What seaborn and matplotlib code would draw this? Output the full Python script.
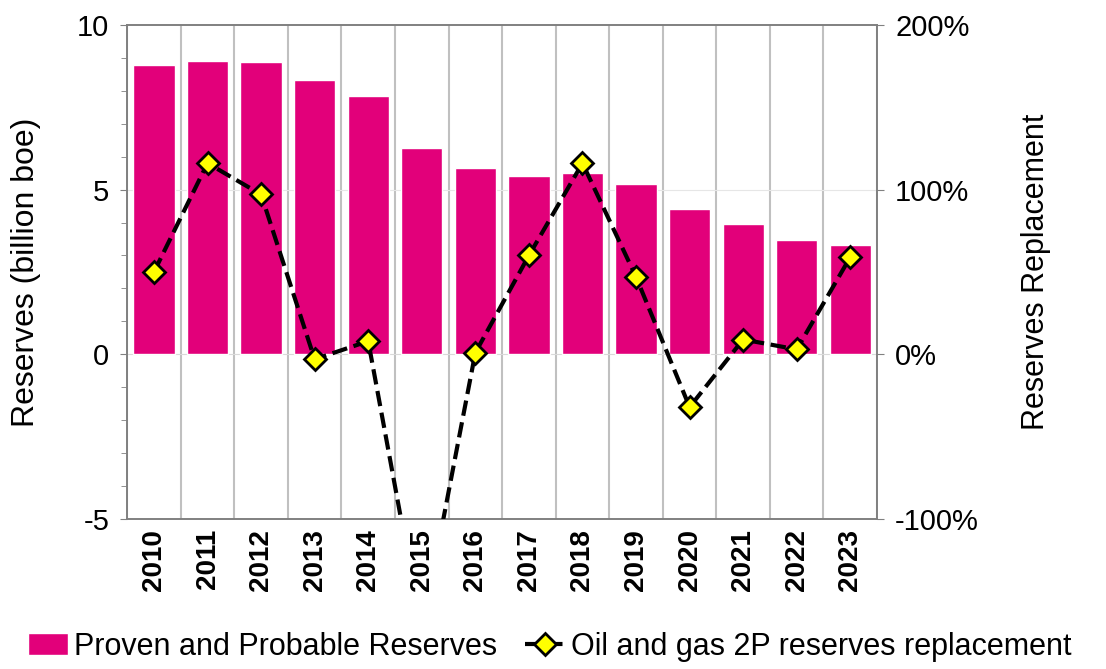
import numpy as np
import matplotlib
matplotlib.use('Agg')
import matplotlib.pyplot as plt
import matplotlib.ticker as mticker
import seaborn as sns
import pandas as pd

years = ['2010', '2011', '2012', '2013', '2014', '2015', '2016',
         '2017', '2018', '2019', '2020', '2021', '2022', '2023']
reserves = [8.78, 8.90, 8.87, 8.33, 7.83, 6.26, 5.65,
            5.41, 5.50, 5.18, 4.41, 3.95, 3.48, 3.31]
replacement = [50, 116, 97, -3, 8, -168, 1,
               60, 116, 47, -32, 9, 3, 59]

bar_color = '#E2007A'

sns.set_style('white')
plt.rcParams['font.family'] = ['Liberation Sans', 'DejaVu Sans']
plt.rcParams['axes.unicode_minus'] = False
plt.rcParams['text.color'] = 'black'
plt.rcParams['axes.labelcolor'] = 'black'
plt.rcParams['xtick.color'] = 'black'
plt.rcParams['ytick.color'] = 'black'

df = pd.DataFrame({'year': years, 'reserves': reserves, 'repl': replacement})

fig = plt.figure(figsize=(11.06, 6.69), dpi=100)
ax = fig.add_axes([0.115, 0.224, 0.678, 0.739])

# vertical separators between categories
for b in np.arange(-0.5, len(years), 1.0):
    ax.axvline(b, color='#c0c0c0', lw=1.5, zorder=0)
ax.axhline(0, color='#d9d9d9', lw=0.8, zorder=0)
ax.axhline(5, color='#e6e6e6', lw=0.8, zorder=0)

sns.barplot(data=df, x='year', y='reserves', color=bar_color, saturation=1,
            width=0.77, ax=ax, label='Proven and Probable Reserves', zorder=2)
ax.set_xlim(-0.5, len(years) - 0.5)
ax.set_ylim(-5, 10)
ax.set_yticks([-5, 0, 5, 10])
ax.yaxis.set_minor_locator(mticker.MultipleLocator(1))
ax.tick_params(axis='y', which='both', direction='out', left=True, length=5,
               color='#808080', labelsize=21, pad=8)
ax.tick_params(axis='y', which='minor', length=4)
ax.tick_params(axis='x', length=0, labelsize=20, pad=7)
for lbl in ax.get_xticklabels():
    lbl.set_rotation(90)
    lbl.set_fontweight('bold')
ax.set_xlabel('')
ax.set_ylabel('Reserves (billion boe)', fontsize=23, labelpad=26)
for s in ax.spines.values():
    s.set_color('#808080')
    s.set_linewidth(1.2)

ax2 = ax.twinx()
sns.lineplot(x=np.arange(len(years)), y=replacement, ax=ax2, color='black',
             linestyle='--', lw=3, marker='D', markersize=11,
             markerfacecolor='#FFFF00', markeredgecolor='black', markeredgewidth=2,
             label='Oil and gas 2P reserves replacement', zorder=3)
ax2.set_ylim(-100, 200)
ax2.set_yticks([-100, 0, 100, 200])
ax2.yaxis.set_major_formatter(mticker.FuncFormatter(lambda v, p: f'{v:.0f}%'))
ax2.tick_params(axis='y', direction='out', right=True, length=5, color='#808080',
                labelsize=21, pad=8)
ax2.set_ylabel('Reserves Replacement', fontsize=22, labelpad=30)
for s in ax2.spines.values():
    s.set_color('#808080')
    s.set_linewidth(1.2)

h1, l1 = ax.get_legend_handles_labels()
h2, l2 = ax2.get_legend_handles_labels()
for a in (ax, ax2):
    if a.get_legend():
        a.get_legend().remove()
fig.legend(h1 + h2, l1 + l2, loc='lower center', bbox_to_anchor=(0.497, -0.03),
           ncol=2, frameon=False, fontsize=22, handlelength=1.3, handletextpad=0.2,
           columnspacing=0.9)

fig.savefig('out.png', dpi=100)
